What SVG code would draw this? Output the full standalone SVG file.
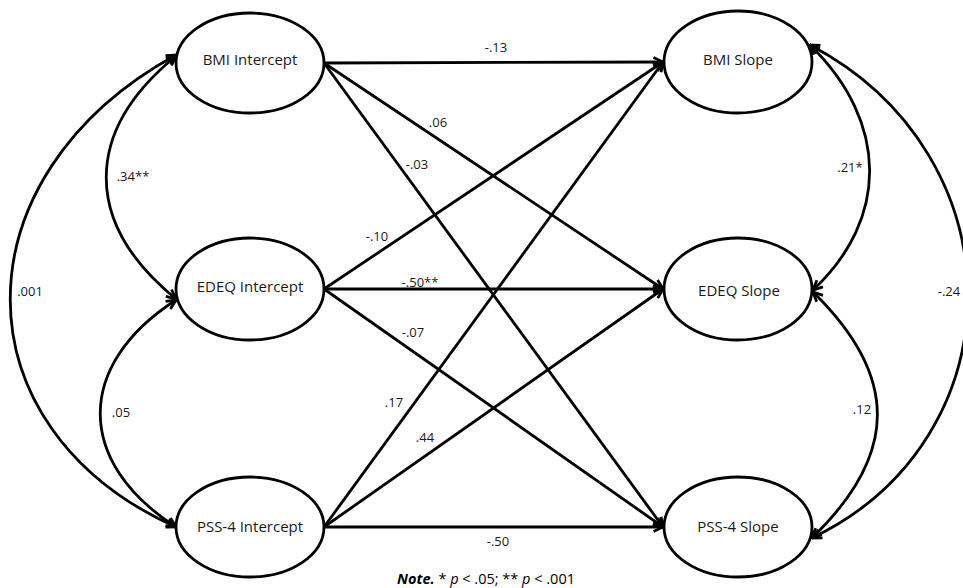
<svg xmlns="http://www.w3.org/2000/svg" width="963" height="588" viewBox="0 0 963 588">
<style>
  .node ellipse { fill: #ffffff; stroke: #000000; stroke-width: 2.8; }
  .node text { font-family: "Open Sans", "Liberation Sans", sans-serif; font-size: 15px; fill: #1a1a1a; text-anchor: middle; }
  .conn path, .conn line { fill: none; stroke: #000000; stroke-width: 2.8; }
  .lbl { font-family: "Open Sans", "Liberation Sans", sans-serif; font-size: 13px; fill: #1a1a1a; text-anchor: middle; }
  .note { font-family: "Open Sans", "Liberation Sans", sans-serif; font-size: 14.5px; fill: #000000; text-anchor: middle; }
</style>
<defs>
  <marker id="ah" viewBox="0 0 12 12" refX="11" refY="6" markerWidth="12" markerHeight="12" markerUnits="userSpaceOnUse" orient="auto-start-reverse">
    <path d="M1.5,1.5 L11,6 L1.5,10.5" fill="none" stroke="#000000" stroke-width="2.8" stroke-linejoin="miter"/>
  </marker>
</defs>
<rect x="0" y="0" width="963" height="588" fill="#ffffff"/>

<g id="connectors" class="conn">
  <line x1="324" y1="63" x2="663" y2="62" marker-end="url(#ah)"/>
  <line x1="324" y1="63" x2="663" y2="289" marker-end="url(#ah)"/>
  <line x1="324" y1="63" x2="663" y2="527" marker-end="url(#ah)"/>
  <line x1="324" y1="289" x2="663" y2="62" marker-end="url(#ah)"/>
  <line x1="324" y1="289" x2="663" y2="289" marker-end="url(#ah)"/>
  <line x1="324" y1="289" x2="663" y2="527" marker-end="url(#ah)"/>
  <line x1="324" y1="527" x2="663" y2="62" marker-end="url(#ah)"/>
  <line x1="324" y1="527" x2="663" y2="289" marker-end="url(#ah)"/>
  <line x1="324" y1="527" x2="663" y2="527" marker-end="url(#ah)"/>
  <path d="M176,55 C-45,176 -45,428 176,527" marker-start="url(#ah)" marker-end="url(#ah)"/>
  <path d="M176,56 C83,132 83,223 176,299" marker-start="url(#ah)" marker-end="url(#ah)"/>
  <path d="M176,300 C75,365 75,462 176,527" marker-start="url(#ah)" marker-end="url(#ah)"/>
  <path d="M810,45 C1020,155 1020,438 812,538" marker-start="url(#ah)" marker-end="url(#ah)"/>
  <path d="M810,45 C889,122 889,219 813,290" marker-start="url(#ah)" marker-end="url(#ah)"/>
  <path d="M813,292 C899,376 899,454 812,538" marker-start="url(#ah)" marker-end="url(#ah)"/>
</g>

<g id="labels">
  <text class="lbl" x="496" y="52">-.13</text>
  <text class="lbl" x="438" y="127">.06</text>
  <text class="lbl" x="417" y="169">-.03</text>
  <text class="lbl" x="377" y="241">-.10</text>
  <text class="lbl" x="420" y="287">-.50**</text>
  <text class="lbl" x="413" y="337">-.07</text>
  <text class="lbl" x="394" y="407">.17</text>
  <text class="lbl" x="425" y="442">.44</text>
  <text class="lbl" x="498" y="546">-.50</text>
  <text class="lbl" x="133" y="181">.34**</text>
  <text class="lbl" x="121" y="417">.05</text>
  <text class="lbl" x="30" y="296">.001</text>
  <text class="lbl" x="850" y="172">.21*</text>
  <text class="lbl" x="862" y="414">.12</text>
  <text class="lbl" x="949" y="296">-.24</text>
</g>

<g id="bmi-intercept" class="node">
  <ellipse cx="250" cy="63" rx="74" ry="50"/>
  <text x="250" y="65">BMI Intercept</text>
</g>
<g id="edeq-intercept" class="node">
  <ellipse cx="250" cy="289" rx="74" ry="51"/>
  <text x="250" y="292">EDEQ Intercept</text>
</g>
<g id="pss4-intercept" class="node">
  <ellipse cx="250" cy="527" rx="74" ry="50"/>
  <text x="250" y="532">PSS-4 Intercept</text>
</g>
<g id="bmi-slope" class="node">
  <ellipse cx="738" cy="62" rx="74" ry="51"/>
  <text x="738" y="65">BMI Slope</text>
</g>
<g id="edeq-slope" class="node">
  <ellipse cx="738" cy="289" rx="74" ry="51"/>
  <text x="739" y="296">EDEQ Slope</text>
</g>
<g id="pss4-slope" class="node">
  <ellipse cx="738" cy="527" rx="74" ry="50"/>
  <text x="738" y="532">PSS-4 Slope</text>
</g>

<text class="note" x="486" y="584"><tspan font-weight="bold" font-style="italic">Note.</tspan> * <tspan font-style="italic">p</tspan> &lt; .05; ** <tspan font-style="italic">p</tspan> &lt; .001</text>
</svg>
